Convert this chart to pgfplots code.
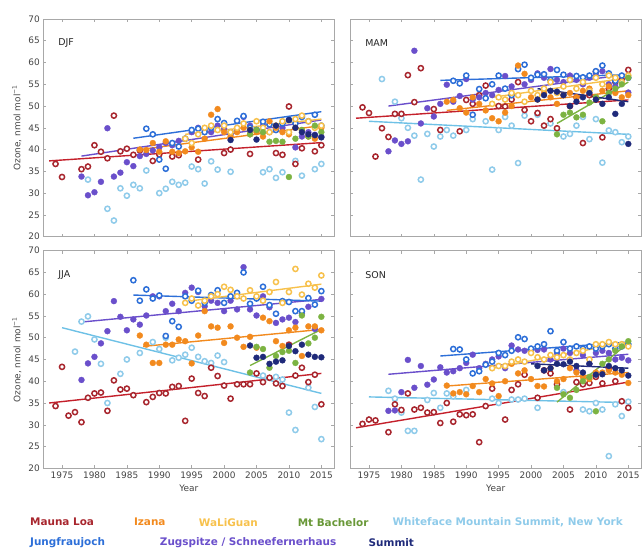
\documentclass[border=0pt]{standalone}
\usepackage{fontspec}
\setmainfont{DejaVu Sans}
\usepackage{pgfplots}
\pgfplotsset{compat=1.18}
\definecolor{MLc}{HTML}{A8262E}
\definecolor{MLl}{HTML}{C4202B}
\definecolor{IZc}{HTML}{F28A1E}
\definecolor{WLc}{HTML}{F7C14C}
\definecolor{MBc}{HTML}{7CB342}
\definecolor{WFc}{HTML}{8FCBEA}
\definecolor{WFl}{HTML}{6EC1E6}
\definecolor{JFc}{HTML}{2D6FD8}
\definecolor{ZGc}{HTML}{6A4FCB}
\definecolor{SMc}{HTML}{1F2A7A}
\definecolor{frame}{HTML}{A8A8A8}
\definecolor{tl}{HTML}{444444}
\tikzset{ptitle/.style={font=\fontsize{9.5}{10}\selectfont, text=black!85}}
\pgfplotsset{
  ring/.style={only marks, mark=*, mark size=2.6bp, mark options={draw=#1, fill=white, line width=1.5bp}},
  dot/.style={only marks, mark=*, mark size=3bp, mark options={draw=#1, fill=#1, line width=0.3bp}},
  trend/.style={no marks, draw=#1, line width=1.4bp},
  panel/.style={scale only axis, width=291.5bp, height=218bp,
    xmin=1972.1, xmax=2017, ymin=20, ymax=70,
    xtick={1975,1980,...,2015}, ytick={20,25,...,70},
    tick align=inside, tick pos=both, major tick length=3bp,
    tick style={frame, line width=0.5bp},
    axis line style={frame, line width=0.7bp},
    tick label style={font=\fontsize{9}{9}\selectfont, text=tl},
    /pgf/number format/assume math mode=true,
    xticklabel style={/pgf/number format/1000 sep={}},
    label style={font=\fontsize{9}{10}\selectfont, text=tl},
    clip=true}
}
\begin{document}
\begin{tikzpicture}
\path (0bp,0bp) rectangle (643bp,552bp);
% ================= DJF =================
\begin{axis}[panel, at={(43.3bp,315bp)}, anchor=south west, xticklabels={},
  ylabel={Ozone, nmol mol\textsuperscript{−1}}]
\addplot[ring=WFc] coordinates {(1979,33.1)(1982,26.4)(1983,23.7)(1984,31.1)(1985,29.4)(1986,31.9)(1987,31.1)(1988,35.2)(1990,30.0)(1991,31.0)(1992,32.6)(1993,31.9)(1994,32.4)(1995,36.1)(1996,35.5)(1997,32.2)(1998,37.3)(1999,35.4)(2001,34.9)(2006,34.8)(2007,35.5)(2008,33.5)(2009,34.8)(2011,37.4)(2012,34.0)(2014,35.5)(2015,36.7)};
\addplot[ring=MLc] coordinates {(1974,36.7)(1975,33.7)(1978,35.5)(1979,36.1)(1980,41.0)(1981,39.5)(1982,38.0)(1983,47.8)(1984,39.6)(1985,40.2)(1986,38.8)(1987,39.8)(1989,37.4)(1990,38.9)(1992,38.4)(1993,38.7)(1996,37.7)(2000,39.2)(2001,40.0)(2004,39.0)(2008,39.2)(2009,38.8)(2010,49.9)(2011,36.7)(2012,40.3)(2014,39.6)(2015,41.0)};
\addplot[dot=ZGc] coordinates {(1978,33.8)(1979,29.5)(1980,30.2)(1981,32.6)(1982,44.9)(1983,33.8)(1984,34.7)(1985,37.1)(1986,36.2)(1987,38.5)(1988,39.0)(1989,39.8)(1990,40.5)(1991,41.5)(1992,41.0)(1993,42.0)(1994,42.5)(1995,44.0)(1996,45.0)(1997,44.5)(1998,44.0)(1999,45.5)(2000,44.8)(2001,43.5)(2002,44.5)(2003,47.5)(2004,45.5)(2005,44.5)(2006,45.5)(2007,44.0)(2008,44.8)(2009,45.0)(2010,44.0)(2011,40.5)(2012,43.0)(2013,44.0)(2014,43.4)(2015,43.0)};
\addplot[ring=JFc] coordinates {(1988,44.8)(1989,43.5)(1990,37.7)(1991,35.6)(1992,41.5)(1993,40.7)(1994,42.5)(1995,44.5)(1996,44.8)(1997,44.0)(1998,45.0)(1999,47.0)(2000,46.1)(2001,44.0)(2002,46.6)(2003,47.7)(2004,45.0)(2005,44.5)(2006,46.4)(2007,45.8)(2008,44.5)(2009,46.0)(2010,46.8)(2011,46.0)(2012,47.5)(2013,46.5)(2014,48.0)(2015,45.5)};
\addplot[dot=IZc] coordinates {(1987,40.0)(1988,39.9)(1989,41.5)(1990,39.5)(1991,41.9)(1992,39.5)(1993,39.2)(1994,39.6)(1995,40.5)(1996,39.5)(1997,42.5)(1998,48.0)(1999,49.3)(2000,44.0)(2001,43.0)(2002,44.0)(2003,45.0)(2004,43.5)(2005,44.0)(2006,43.0)(2007,46.5)(2008,45.0)(2009,44.0)(2010,43.5)(2011,45.0)(2012,44.5)(2013,43.0)(2014,42.5)(2015,45.0)};
\addplot[ring=WLc] coordinates {(1994,42.5)(1995,41.5)(1996,43.5)(1997,45.0)(1998,45.5)(1999,44.5)(2000,45.5)(2001,44.0)(2002,45.0)(2003,46.0)(2004,44.5)(2005,46.5)(2006,45.0)(2007,44.0)(2008,45.5)(2009,46.5)(2010,44.0)(2011,47.0)(2012,47.8)(2013,46.5)(2014,45.0)(2015,45.5)};
\addplot[dot=MBc] coordinates {(2004,43.5)(2005,44.5)(2006,44.0)(2007,41.8)(2008,42.0)(2009,41.8)(2010,33.7)(2011,42.5)(2012,44.5)(2013,43.0)(2014,45.5)(2015,44.0)};
\addplot[dot=SMc] coordinates {(2001,42.2)(2004,44.5)(2005,42.3)(2008,45.5)(2010,46.8)(2011,45.0)(2012,44.0)(2013,43.5)(2014,43.3)(2015,42.8)};
\addplot[trend=MLl] coordinates {(1973,37.4)(2015,41.6)};
\addplot[trend=ZGc] coordinates {(1978,38.5)(2015,46.8)};
\addplot[trend=JFc] coordinates {(1986,42.6)(2015,48.7)};
\addplot[trend=IZc] coordinates {(1987,40.0)(2015,45.5)};
\addplot[trend=WLc] coordinates {(1994,43.5)(2015,47.0)};
\node[ptitle, anchor=west] at (rel axis cs:0.04,0.89) {DJF};
\end{axis}
% ================= MAM =================
\begin{axis}[panel, at={(350.7bp,315bp)}, anchor=south west, xticklabels={}, yticklabels={}]
\addplot[ring=WFc] coordinates {(1977,56.2)(1979,51.0)(1980,47.2)(1981,45.0)(1982,43.2)(1983,33.1)(1984,43.6)(1985,40.7)(1986,43.0)(1987,44.5)(1988,43.2)(1990,44.5)(1991,47.0)(1993,46.5)(1994,35.4)(1995,44.5)(1996,47.5)(1997,45.5)(1998,36.9)(1999,47.8)(2001,48.0)(2003,46.0)(2005,43.0)(2006,43.6)(2007,45.5)(2008,47.5)(2009,42.4)(2010,47.0)(2011,37.0)(2012,44.4)(2013,44.0)(2014,41.7)(2015,43.0)};
\addplot[ring=MLc] coordinates {(1974,49.7)(1975,48.4)(1976,38.4)(1977,44.9)(1978,42.9)(1979,48.2)(1980,48.2)(1981,57.1)(1982,50.9)(1983,58.7)(1985,49.3)(1986,44.5)(1989,44.2)(1990,51.4)(1991,50.5)(1992,52.5)(1993,54.7)(1995,50.0)(1996,49.9)(1997,51.5)(1998,55.5)(1999,49.1)(2000,46.5)(2001,48.4)(2002,45.5)(2003,47.0)(2004,44.9)(2006,50.0)(2007,52.0)(2008,41.5)(2009,52.5)(2010,57.9)(2011,42.8)(2012,54.0)(2013,55.5)(2014,56.0)(2015,58.3)};
\addplot[dot=ZGc] coordinates {(1978,39.6)(1979,42.1)(1980,41.3)(1981,41.9)(1982,62.7)(1983,46.0)(1984,49.5)(1985,47.6)(1986,50.5)(1987,54.9)(1988,51.0)(1989,52.3)(1990,56.2)(1991,51.5)(1992,52.0)(1993,53.0)(1994,52.5)(1995,53.7)(1996,56.9)(1997,54.5)(1998,58.5)(1999,55.0)(2000,56.0)(2001,57.5)(2002,56.5)(2003,58.5)(2004,56.0)(2005,55.5)(2006,57.0)(2007,56.0)(2008,55.0)(2009,56.5)(2010,57.5)(2011,58.0)(2012,55.0)(2013,54.5)(2014,55.5)(2015,53.1)};
\addplot[ring=JFc] coordinates {(1988,55.8)(1989,55.2)(1990,57.0)(1991,48.0)(1992,53.9)(1993,51.8)(1994,55.0)(1995,57.0)(1996,54.0)(1997,52.5)(1998,58.5)(1999,59.5)(2000,56.5)(2001,57.2)(2002,57.3)(2003,56.0)(2004,58.3)(2005,57.2)(2006,56.0)(2007,56.9)(2008,56.6)(2009,57.0)(2010,58.0)(2011,59.3)(2012,57.5)(2013,55.8)(2014,57.0)(2015,56.5)};
\addplot[dot=IZc] coordinates {(1987,51.0)(1988,51.4)(1989,49.5)(1990,48.5)(1991,52.0)(1992,50.5)(1993,49.0)(1994,47.2)(1995,46.5)(1996,48.5)(1997,50.0)(1998,59.3)(1999,57.4)(2000,52.0)(2001,51.5)(2002,53.0)(2003,52.0)(2004,50.5)(2005,52.5)(2006,53.0)(2007,52.0)(2008,53.5)(2009,54.0)(2010,52.0)(2011,53.5)(2012,54.5)(2013,53.0)(2014,52.0)(2015,52.5)};
\addplot[ring=WLc] coordinates {(1994,50.5)(1995,52.0)(1996,51.5)(1997,53.0)(1998,52.5)(1999,51.0)(2000,53.5)(2001,52.5)(2002,54.0)(2003,55.5)(2004,53.0)(2005,54.5)(2006,56.0)(2007,54.0)(2008,55.5)(2009,53.5)(2010,56.5)(2011,55.0)(2012,57.0)(2013,56.5)(2014,55.5)(2015,57.0)};
\addplot[dot=MBc] coordinates {(2004,43.5)(2005,48.0)(2006,48.5)(2007,47.4)(2008,48.0)(2009,50.8)(2010,52.0)(2011,46.5)(2012,53.0)(2013,54.0)(2014,55.0)(2015,56.5)};
\addplot[dot=SMc] coordinates {(2001,51.5)(2002,52.5)(2003,53.5)(2004,53.3)(2005,52.5)(2006,50.0)(2007,51.0)(2008,52.0)(2009,53.0)(2010,51.5)(2011,50.5)(2012,52.0)(2013,48.2)(2014,50.5)(2015,41.3)};
\addplot[trend=MLl] coordinates {(1973,47.2)(2015,51.4)};
\addplot[trend=WFl] coordinates {(1975,46.5)(2015,43.5)};
\addplot[trend=ZGc] coordinates {(1978,50.0)(2015,57.3)};
\addplot[trend=JFc] coordinates {(1986,55.9)(2015,57.2)};
\addplot[trend=IZc] coordinates {(1987,49.0)(2015,53.5)};
\addplot[trend=WLc] coordinates {(1994,52.0)(2015,56.5)};
\addplot[trend=MBc] coordinates {(2004,46.0)(2015,55.5)};
\addplot[trend=SMc] coordinates {(2001,54.0)(2015,51.0)};
\node[ptitle, anchor=west] at (rel axis cs:0.04,0.89) {MAM};
\end{axis}
% ================= JJA =================
\begin{axis}[panel, at={(43.3bp,83bp)}, anchor=south west, xlabel={Year},
  ylabel={Ozone, nmol mol\textsuperscript{−1}}]
\addplot[ring=WFc] coordinates {(1977,46.8)(1978,53.7)(1979,54.9)(1980,49.6)(1981,44.0)(1982,35.0)(1984,41.7)(1985,45.0)(1987,46.5)(1989,49.0)(1990,47.4)(1991,50.0)(1992,44.8)(1993,45.4)(1994,46.1)(1995,47.7)(1996,45.6)(1997,44.6)(1998,44.2)(1999,45.9)(2000,44.4)(2006,41.3)(2008,41.0)(2009,40.4)(2010,32.8)(2011,28.8)(2013,38.5)(2014,34.1)(2015,26.7)};
\addplot[ring=MLc] coordinates {(1974,34.3)(1975,43.3)(1976,32.1)(1977,32.9)(1978,30.6)(1979,36.2)(1980,37.2)(1981,37.4)(1982,33.2)(1983,40.2)(1984,38.1)(1985,38.3)(1986,36.8)(1988,35.2)(1989,36.4)(1990,37.3)(1991,37.2)(1992,38.7)(1993,38.9)(1994,30.9)(1995,40.6)(1996,37.3)(1997,36.6)(1998,43.1)(1999,41.2)(2000,39.0)(2001,36.0)(2002,39.3)(2003,39.3)(2004,39.3)(2005,41.8)(2006,39.8)(2007,40.8)(2008,39.5)(2009,38.9)(2010,48.4)(2011,41.3)(2012,43.1)(2013,39.8)(2014,41.5)(2015,34.7)};
\addplot[dot=ZGc] coordinates {(1978,40.3)(1979,44.1)(1980,45.6)(1981,48.7)(1982,51.5)(1983,58.4)(1984,54.8)(1985,51.7)(1986,54.2)(1987,53.0)(1988,55.1)(1989,59.5)(1990,59.5)(1991,56.1)(1992,57.8)(1993,56.1)(1994,60.3)(1995,61.5)(1996,60.5)(1997,57.2)(1998,58.5)(1999,58.0)(2000,56.1)(2001,58.5)(2002,56.5)(2003,66.2)(2004,56.5)(2005,55.1)(2006,59.5)(2007,57.0)(2008,53.4)(2009,54.2)(2010,54.6)(2011,53.6)(2012,55.5)(2013,57.1)(2014,52.0)(2015,58.9)};
\addplot[ring=JFc] coordinates {(1986,63.2)(1987,58.5)(1988,61.1)(1989,59.0)(1990,59.7)(1991,50.4)(1992,53.8)(1993,52.5)(1994,59.5)(1995,58.5)(1996,60.8)(1997,58.0)(1998,59.8)(1999,60.9)(2000,58.0)(2001,59.5)(2002,60.3)(2003,65.0)(2004,57.8)(2005,59.0)(2006,61.7)(2007,57.5)(2008,55.5)(2009,58.4)(2010,58.2)(2011,56.1)(2012,56.1)(2013,59.1)(2014,57.6)(2015,60.7)};
\addplot[dot=IZc] coordinates {(1987,50.5)(1988,48.4)(1989,44.2)(1990,44.2)(1991,48.4)(1992,48.4)(1993,49.6)(1994,49.2)(1995,44.1)(1996,50.5)(1997,56.1)(1998,52.6)(1999,52.3)(2000,48.8)(2001,52.6)(2002,50.0)(2003,47.9)(2004,50.2)(2005,47.7)(2006,54.6)(2007,53.8)(2008,49.2)(2009,48.1)(2010,51.7)(2011,52.3)(2012,45.8)(2013,52.6)(2014,52.6)(2015,51.7)};
\addplot[ring=WLc] coordinates {(1994,58.0)(1995,59.0)(1996,57.4)(1997,58.5)(1998,59.5)(1999,60.0)(2000,61.7)(2001,61.0)(2002,59.5)(2003,59.0)(2004,60.9)(2005,59.5)(2006,58.5)(2007,60.5)(2008,62.8)(2009,58.0)(2010,60.5)(2011,65.8)(2012,59.9)(2013,62.4)(2014,61.5)(2015,64.3)};
\addplot[dot=MBc] coordinates {(2004,42.0)(2005,47.9)(2006,47.4)(2007,43.1)(2008,45.8)(2009,46.7)(2010,47.0)(2011,44.2)(2012,55.1)(2013,48.7)(2014,50.0)(2015,54.8)};
\addplot[dot=SMc] coordinates {(2004,48.2)(2005,45.4)(2006,45.6)(2007,44.0)(2008,44.5)(2009,44.8)(2010,48.1)(2011,46.9)(2012,48.4)(2013,46.1)(2014,45.6)(2015,45.5)};
\addplot[trend=MLl] coordinates {(1973,35.0)(2015,41.8)};
\addplot[trend=WFl] coordinates {(1975,52.3)(2015,37.2)};
\addplot[trend=ZGc] coordinates {(1978,53.6)(2015,58.8)};
\addplot[trend=JFc] coordinates {(1986,59.8)(2015,58.4)};
\addplot[trend=IZc] coordinates {(1987.5,48.0)(2015,51.9)};
\addplot[trend=WLc] coordinates {(1995,58.5)(2015,62.3)};
\addplot[trend=MBc] coordinates {(2004,43.6)(2015,51.9)};
\node[ptitle, anchor=west] at (rel axis cs:0.04,0.89) {JJA};
\end{axis}
% ================= SON =================
\begin{axis}[panel, at={(350.7bp,83bp)}, anchor=south west, xlabel={Year}, yticklabels={}]
\addplot[ring=WFc] coordinates {(1978,37.8)(1979,36.0)(1980,32.8)(1981,28.6)(1982,28.6)(1984,35.7)(1985,37.3)(1986,33.9)(1987,37.2)(1988,36.5)(1990,38.0)(1994,36.0)(1995,35.0)(1997,35.8)(1998,35.8)(1999,36.0)(2001,33.9)(2005,37.5)(2008,33.5)(2009,33.1)(2010,35.0)(2011,33.5)(2012,22.8)(2013,34.7)(2014,32.0)(2015,35.3)};
\addplot[ring=MLc] coordinates {(1974,30.2)(1975,31.2)(1976,31.0)(1978,28.3)(1979,34.7)(1980,33.4)(1981,37.2)(1982,33.5)(1983,33.9)(1984,32.8)(1985,32.9)(1986,30.4)(1987,35.0)(1988,30.7)(1989,32.4)(1990,32.2)(1991,32.4)(1992,26.0)(1993,34.3)(1994,38.3)(1996,31.2)(1997,38.0)(1998,39.3)(1999,41.5)(2001,36.2)(2002,42.5)(2003,41.8)(2004,39.3)(2006,33.5)(2007,39.8)(2008,39.3)(2009,39.6)(2010,41.0)(2011,39.5)(2012,43.0)(2013,40.0)(2014,35.4)(2015,33.9)};
\addplot[dot=ZGc] coordinates {(1978,33.2)(1979,33.3)(1980,37.5)(1981,44.9)(1982,38.5)(1983,43.5)(1984,39.2)(1985,40.4)(1986,43.2)(1987,42.0)(1988,42.3)(1989,43.0)(1990,44.2)(1991,46.1)(1992,43.0)(1993,44.0)(1994,45.0)(1995,45.7)(1996,43.0)(1997,48.2)(1998,47.3)(1999,47.0)(2000,47.0)(2001,47.2)(2002,47.3)(2003,45.0)(2004,46.5)(2005,47.5)(2006,46.5)(2007,42.5)(2008,46.0)(2009,44.0)(2010,46.5)(2011,47.0)(2012,46.5)(2013,45.0)(2014,45.4)(2015,44.8)};
\addplot[ring=JFc] coordinates {(1988,47.4)(1989,47.3)(1990,45.0)(1991,41.8)(1992,42.3)(1993,43.8)(1994,44.5)(1995,46.5)(1996,46.0)(1997,47.0)(1998,50.1)(1999,49.7)(2000,47.5)(2001,48.0)(2002,48.5)(2003,51.5)(2004,47.0)(2005,49.0)(2006,47.5)(2007,48.0)(2008,47.5)(2009,48.0)(2010,47.5)(2011,48.0)(2012,48.5)(2013,47.5)(2014,48.0)(2015,48.5)};
\addplot[dot=IZc] coordinates {(1987,39.0)(1988,37.2)(1989,37.5)(1990,37.0)(1991,38.9)(1992,37.5)(1993,40.5)(1994,39.5)(1995,36.6)(1996,40.0)(1997,44.0)(1998,41.8)(1999,42.5)(2000,40.5)(2001,38.9)(2002,38.8)(2003,43.0)(2004,40.0)(2005,40.5)(2006,43.0)(2007,42.0)(2008,41.0)(2009,40.5)(2010,42.0)(2011,42.0)(2012,42.5)(2013,42.0)(2014,41.5)(2015,39.6)};
\addplot[ring=WLc] coordinates {(1994,43.0)(1995,43.5)(1996,43.5)(1997,44.5)(1998,45.0)(1999,44.5)(2000,46.5)(2001,45.5)(2002,45.0)(2003,46.0)(2004,45.5)(2005,46.0)(2006,45.0)(2007,46.5)(2008,47.0)(2009,45.0)(2010,48.5)(2011,48.5)(2012,49.0)(2013,48.5)(2014,48.5)(2015,48.0)};
\addplot[dot=MBc] coordinates {(2004,38.5)(2005,37.0)(2006,36.2)(2007,38.0)(2008,40.0)(2009,41.0)(2010,33.1)(2011,44.0)(2012,45.0)(2013,47.0)(2014,48.0)(2015,49.2)};
\addplot[dot=SMc] coordinates {(2001,43.5)(2002,42.5)(2003,43.0)(2004,44.0)(2005,43.9)(2006,44.5)(2007,43.5)(2008,42.0)(2009,44.0)(2010,41.5)(2011,41.6)(2012,43.5)(2013,43.0)(2014,42.5)(2015,41.3)};
\addplot[trend=MLl] coordinates {(1973,29.3)(2015,39.8)};
\addplot[trend=WFl] coordinates {(1975,36.4)(2015,35.1)};
\addplot[trend=ZGc] coordinates {(1978,41.6)(2015,46.2)};
\addplot[trend=JFc] coordinates {(1986,45.8)(2015,49.0)};
\addplot[trend=IZc] coordinates {(1987,38.9)(2015,42.0)};
\addplot[trend=WLc] coordinates {(1994,43.0)(2015,49.0)};
\addplot[trend=MBc] coordinates {(2004,35.2)(2015,48.8)};
\addplot[trend=SMc] coordinates {(2000,44.0)(2015,43.0)};
\node[ptitle, anchor=west] at (rel axis cs:0.04,0.89) {SON};
\end{axis}
% ================= legend =================
\begin{scope}[every node/.style={font=\bfseries\fontsize{10.5}{11}\selectfont, anchor=west, inner sep=0pt}]
\node[text=MLc] at (30bp,29bp) {Mauna Loa};
\node[text=IZc] at (134bp,29bp) {Izana};
\node[text=WLc] at (199bp,29bp) {WaLiGuan};
\node[text=MBc!85!black] at (298bp,29bp) {Mt Bachelor};
\node[text=WFc] at (393bp,29bp) {Whiteface Mountain Summit, New York};
\node[text=JFc] at (30bp,9bp) {Jungfraujoch};
\node[text=ZGc] at (160bp,9bp) {Zugspitze / Schneefernerhaus};
\node[text=SMc] at (369bp,9bp) {Summit};
\end{scope}
\end{tikzpicture}
\end{document}
